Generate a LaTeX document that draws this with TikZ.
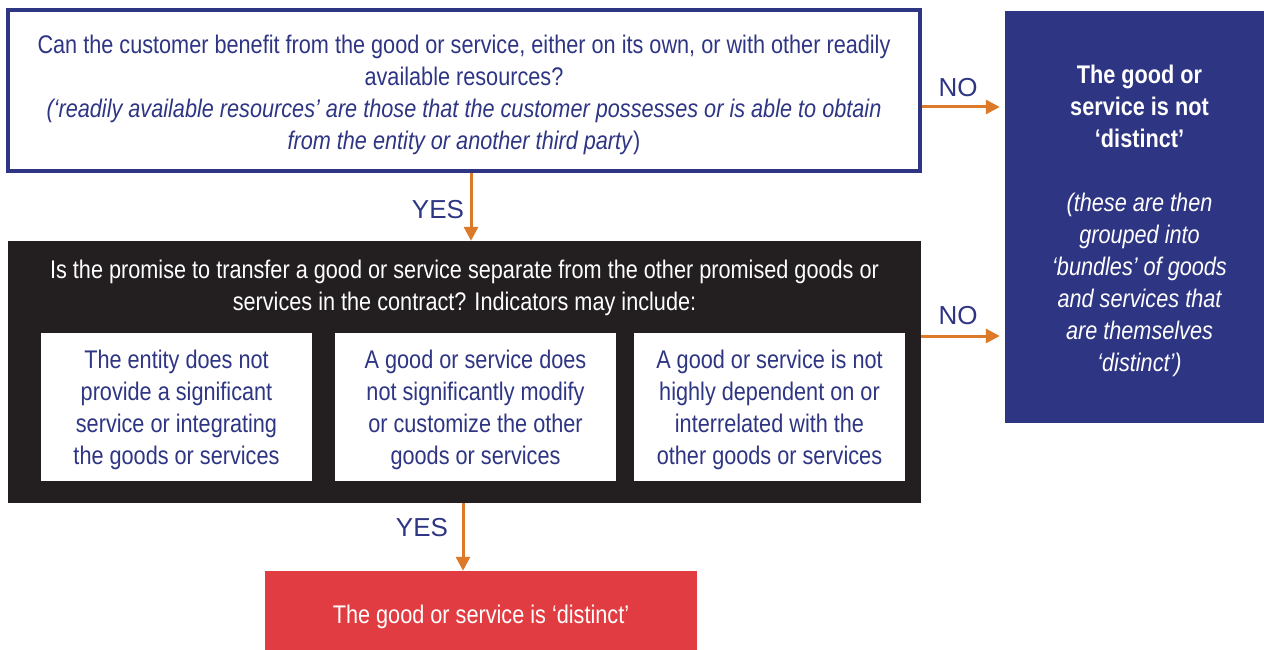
\documentclass[tikz,border=0pt]{standalone}
\usepackage{fontspec}
\setmainfont{Liberation Sans}[FakeStretch=0.85]
\newfontfamily\labelfont{Liberation Sans}
\usetikzlibrary{arrows.meta}
\definecolor{navy}{RGB}{46,53,131}
\definecolor{flowor}{RGB}{220,122,42}
\definecolor{darkbox}{RGB}{35,31,32}
\definecolor{redbox}{RGB}{224,60,65}
\begin{document}
\begin{tikzpicture}[x=1pt,y=-1pt,
  txt/.style={align=center,inner sep=0pt,font=\fontsize{25.5}{32}\selectfont},
  flow/.style={draw=flowor,line width=3pt,-{Triangle[length=14pt,width=14pt]}},
  lbl/.style={inner sep=0pt,text=navy,font=\labelfont\fontsize{26}{28}\selectfont},
  indbox/.style={fill=white,inner sep=0pt,minimum height=148pt},
]
\useasboundingbox (0,0) rectangle (1264,650);

% question 1
\node[draw=navy,line width=4pt,minimum width=912pt,minimum height=161pt,inner sep=0pt] (q1) at (464,90.5) {};
\node[txt,text=navy] (q1t) at (464,94.5) {Can the customer benefit from the good or service, either on its own, or with other readily\\
available resources?\\
\textit{(‘readily available resources’ are those that the customer possesses or is able to obtain}\\
\textit{from the entity or another third party})};

% question 2 with its indicators
\node[fill=darkbox,minimum width=913pt,minimum height=262pt,inner sep=0pt] (q2) at (464.5,372) {};
\node[txt,text=white] (q2t) at (464.5,288) {Is the promise to transfer a good or service separate from the other promised goods or\\
services in the contract? Indicators may include:};
\node[indbox,minimum width=271pt] (i1) at (176.5,407) {};
\node[indbox,minimum width=281pt] (i2) at (475.5,407) {};
\node[indbox,minimum width=271pt] (i3) at (769.5,407) {};
\node[txt,text=navy] at (176.5,409.5) {The entity does not\\provide a significant\\service or integrating\\the goods or services};
\node[txt,text=navy] at (475.5,409.5) {A good or service does\\not significantly modify\\or customize the other\\goods or services};
\node[txt,text=navy] at (769.5,409.5) {A good or service is not\\highly dependent on or\\interrelated with the\\other goods or services};

% outcomes
\node[fill=navy,minimum width=259pt,minimum height=412pt,inner sep=0pt] (nd) at (1134.5,217) {};
\node[txt,text=white,font=\bfseries\fontsize{25.5}{32}\selectfont] (ndt) at (1139.5,106) {The good or\\service is not\\‘distinct’};
\node[txt,text=white,font=\itshape\fontsize{25.5}{32}\selectfont] (ndi) at (1139.5,285) {(these are then\\grouped into\\‘bundles’ of goods\\and services that\\are themselves\\‘distinct’)};

\node[fill=redbox,minimum width=432pt,minimum height=79pt,inner sep=0pt] (di) at (481,610.5) {};
\node[txt,text=white] (dit) at (481,617) {The good or service is ‘distinct’};

% connectors
\coordinate (c1) at (471,0);
\coordinate (c2) at (463,0);
\coordinate (r1) at (0,107);
\coordinate (r2) at (0,336);
\draw[flow] (q1.south -| c1) -- (q2.north -| c1);
\draw[flow,shorten >=5pt] (q1.east |- r1) -- (nd.west |- r1);
\draw[flow,shorten >=5pt] (q2.east |- r2) -- (nd.west |- r2);
\draw[flow] (q2.south -| c2) -- (di.north -| c2);

\node[lbl] at (438,210) {YES};
\node[lbl] at (958,88) {NO};
\node[lbl] at (958,316) {NO};
\node[lbl] at (422,528) {YES};
\end{tikzpicture}
\end{document}
